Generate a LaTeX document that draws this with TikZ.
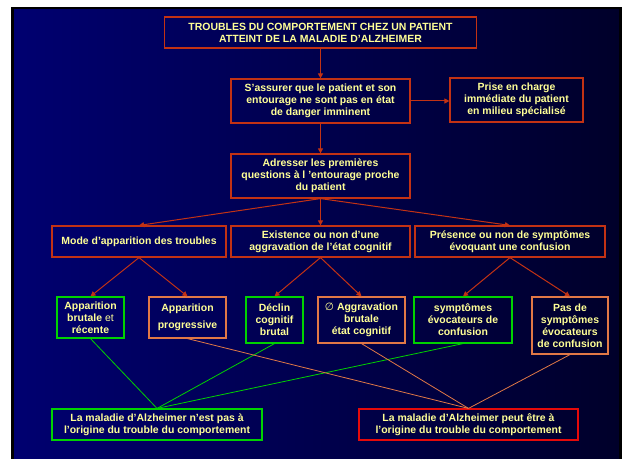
\documentclass[tikz,border=0pt]{standalone}
\usepackage{fontspec}
\setmainfont{Liberation Sans}
\newfontfamily\symfnt{DejaVu Sans}
\usetikzlibrary{arrows.meta}
\definecolor{bgL}{RGB}{0,0,112}
\definecolor{bgR}{RGB}{0,0,42}
\definecolor{brd}{RGB}{195,50,20}
\definecolor{grn}{RGB}{0,210,0}
\definecolor{org}{RGB}{225,120,70}
\definecolor{rd}{RGB}{230,10,10}
\definecolor{txt}{RGB}{255,255,150}
\begin{document}
\begin{tikzpicture}[x=1bp,y=-1bp,
  every node/.style={text=txt, font=\bfseries\fontsize{10.5}{12}\selectfont, align=center, inner sep=0pt, line width=1.2bp},
  bx/.style={draw=#1},
  arr/.style={draw=brd, line width=1bp, -{Triangle[length=5bp,width=5bp]}},
  gl/.style={draw=grn, line width=0.8bp},
  ol/.style={draw=org, line width=0.8bp}]
\useasboundingbox (0,0) rectangle (625,459);
\fill[white] (0,0) rectangle (625,459);
\fill[black] (11,7) rectangle (622,459);
\shade[left color=bgL, right color=bgR] (14,10) rectangle (619,459);

\node[bx=brd, minimum width=312bp, minimum height=31bp] (title) at (320.5,32.5)
  {TROUBLES DU COMPORTEMENT CHEZ UN PATIENT\\ATTEINT DE LA MALADIE D’ALZHEIMER};
\node[bx=brd, minimum width=179bp, minimum height=44bp] (safe) at (320.5,101)
  {S’assurer que le patient et son\\entourage ne sont pas en état\\de danger imminent};
\node[bx=brd, minimum width=133bp, minimum height=44bp] (prise) at (516.5,100)
  {Prise en charge\\immédiate du patient\\en milieu spécialisé};
\node[bx=brd, minimum width=179bp, minimum height=44bp] (adr) at (320.5,176)
  {Adresser les premières\\questions à l ’entourage proche\\du patient};
\node[bx=brd, minimum width=174bp, minimum height=31bp] (mode) at (139,241.5)
  {Mode d’apparition des troubles};
\node[bx=brd, minimum width=179bp, minimum height=31bp] (exist) at (320.5,241.5)
  {Existence ou non d’une\\aggravation de l’état cognitif};
\node[bx=brd, minimum width=190bp, minimum height=31bp] (pres) at (510,241.5)
  {Présence ou non de symptômes\\évoquant une confusion};

\node[bx=grn, minimum width=67bp, minimum height=41bp] (brut) at (90.5,317.5)
  {Apparition\\brutale {\mdseries et}\\récente};
\node[bx=org, minimum width=77bp, minimum height=41bp] (prog) at (187.5,317.5)
  {Apparition\\[5bp]progressive};
\node[bx=grn, minimum width=57bp, minimum height=46bp] (declin) at (274.5,320)
  {Déclin\\cognitif\\brutal};
\node[bx=org, minimum width=87bp, minimum height=46bp] (aggr) at (361.5,320)
  {{\mdseries\symfnt ∅} Aggravation\\brutale\\état cognitif};
\node[bx=grn, minimum width=98bp, minimum height=46bp] (sympt) at (463,320)
  {symptômes\\évocateurs de\\confusion};
\node[bx=org, minimum width=76bp, minimum height=57bp] (pas) at (570,325.5)
  {Pas de\\symptômes\\évocateurs\\de confusion};

\node[bx=grn, minimum width=210bp, minimum height=31bp] (nonAD) at (157,424.5)
  {La maladie d’Alzheimer n’est pas à\\l’origine du trouble du comportement};
\node[bx=rd, minimum width=219bp, minimum height=31bp] (AD) at (468.5,424.5)
  {La maladie d’Alzheimer peut être à\\l’origine du trouble du comportement};

\draw[arr] (title.south) -- (safe.north);
\draw[arr] (safe.east) -- (prise.west |- safe.east);
\draw[arr] (safe.south) -- (adr.north);
\draw[arr] (adr.south) -- (mode.north);
\draw[arr] (adr.south) -- (exist.north);
\draw[arr] (adr.south) -- (pres.north);
\draw[arr] (mode.south) -- (brut.north);
\draw[arr] (mode.south) -- (prog.north);
\draw[arr] (exist.south) -- (declin.north);
\draw[arr] (exist.south) -- (aggr.north);
\draw[arr] (pres.south) -- (sympt.north);
\draw[arr] (pres.south) -- (pas.north);

\draw[gl] (brut.south) -- (nonAD.north);
\draw[gl] (declin.south) -- (nonAD.north);
\draw[gl] (sympt.south) -- (nonAD.north);
\draw[ol] (prog.south) -- (AD.north);
\draw[ol] (aggr.south) -- (AD.north);
\draw[ol] (pas.south) -- (AD.north);
\end{tikzpicture}
\end{document}
